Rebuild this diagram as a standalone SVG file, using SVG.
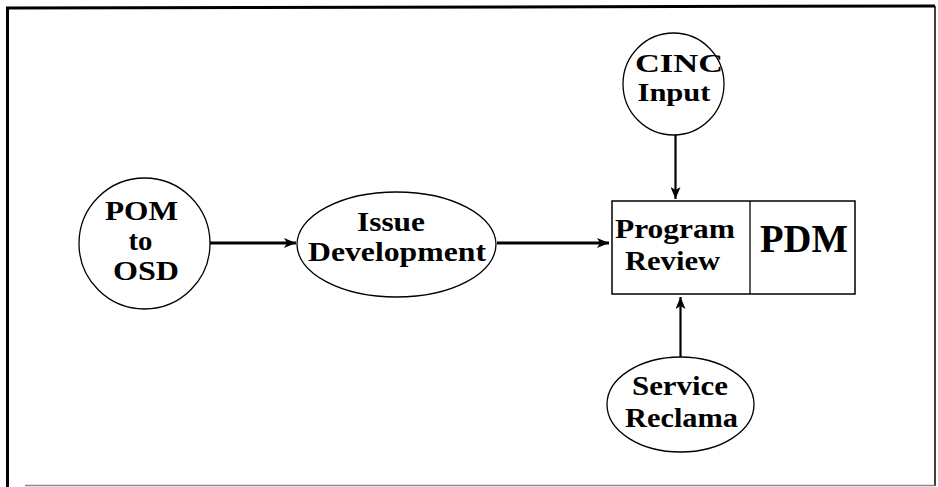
<svg xmlns="http://www.w3.org/2000/svg" width="938" height="487" viewBox="0 0 938 487">
<style>
.node { fill: #fff; stroke: #000; stroke-width: 1.3; }
.t { font-family: "Liberation Serif", "Times New Roman", serif; font-weight: bold; fill: #000; text-anchor: middle; }
.conn { stroke: #000; fill: none; }
</style>
<defs>
<marker id="ah" viewBox="0 0 12 10" refX="12" refY="5" markerWidth="12" markerHeight="10" markerUnits="userSpaceOnUse" orient="auto">
<path d="M0,0 L12,5 L0,10 L3,5 Z" fill="#000"/>
</marker>
</defs>
<rect x="0" y="0" width="938" height="487" fill="#fff"/>
<g id="frame">
<line x1="7.5" y1="7" x2="7.5" y2="487" stroke="#000" stroke-width="3"/>
<line x1="6" y1="8" x2="935" y2="6" stroke="#000" stroke-width="3"/>
<line x1="935" y1="6" x2="935" y2="486" stroke="#000" stroke-width="1.5"/>
<line x1="25" y1="485.5" x2="935" y2="485.5" stroke="#888" stroke-width="1.5"/>
</g>
<g id="connectors">
<line class="conn" x1="210" y1="243" x2="296" y2="243" stroke-width="3" marker-end="url(#ah)"/>
<line class="conn" x1="497" y1="243" x2="609" y2="243" stroke-width="3" marker-end="url(#ah)"/>
<line class="conn" x1="675.5" y1="135" x2="675.5" y2="199" stroke-width="2.2" marker-end="url(#ah)"/>
<line class="conn" x1="680.5" y1="357" x2="680.5" y2="297" stroke-width="2.2" marker-end="url(#ah)"/>
</g>
<g id="pom">
<ellipse class="node" cx="144.5" cy="243.5" rx="65.5" ry="65.5"/>
<text class="t" x="141.5" y="220" font-size="27" textLength="73" lengthAdjust="spacingAndGlyphs">POM</text>
<text class="t" x="140.5" y="250" font-size="27" textLength="24" lengthAdjust="spacingAndGlyphs">to</text>
<text class="t" x="146" y="280" font-size="27" textLength="66" lengthAdjust="spacingAndGlyphs">OSD</text>
</g>
<g id="issue">
<ellipse class="node" cx="396.5" cy="244.5" rx="99.5" ry="52.5"/>
<text class="t" x="391" y="231" font-size="27" textLength="68" lengthAdjust="spacingAndGlyphs">Issue</text>
<text class="t" x="397" y="261" font-size="27" textLength="178" lengthAdjust="spacingAndGlyphs">Development</text>
</g>
<g id="cinc">
<ellipse class="node" cx="673.5" cy="84" rx="50.5" ry="51"/>
<text class="t" x="679" y="72" font-size="26" textLength="88" lengthAdjust="spacingAndGlyphs">CINC</text>
<text class="t" x="674" y="101" font-size="26" textLength="73" lengthAdjust="spacingAndGlyphs">Input</text>
</g>
<g id="review">
<rect x="612" y="201" width="243" height="93" fill="#fff" stroke="#000" stroke-width="1.5"/>
<line x1="750" y1="201" x2="750" y2="294" stroke="#000" stroke-width="1.3"/>
<text class="t" x="675" y="238" font-size="28" textLength="120" lengthAdjust="spacingAndGlyphs">Program</text>
<text class="t" x="672.5" y="270" font-size="28" textLength="95" lengthAdjust="spacingAndGlyphs">Review</text>
<text class="t" x="804" y="252" font-size="40" textLength="88" lengthAdjust="spacingAndGlyphs">PDM</text>
</g>
<g id="service">
<ellipse class="node" cx="680.5" cy="404.5" rx="73.5" ry="47.5"/>
<text class="t" x="680" y="395" font-size="28" textLength="96" lengthAdjust="spacingAndGlyphs">Service</text>
<text class="t" x="681.5" y="427" font-size="28" textLength="113" lengthAdjust="spacingAndGlyphs">Reclama</text>
</g>
</svg>
